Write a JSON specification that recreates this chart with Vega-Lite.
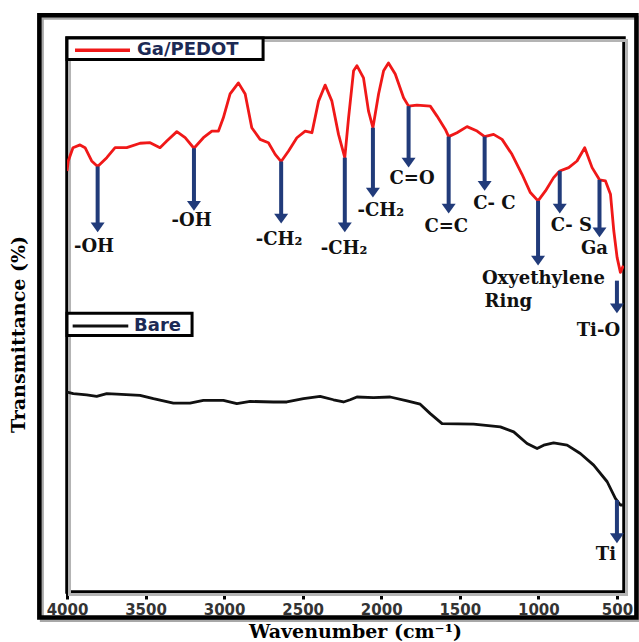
{
  "$schema": "https://vega.github.io/schema/vega-lite/v6.json",
  "width": 557,
  "height": 554,
  "autosize": {"type": "none"},
  "padding": {"left": 67, "top": 38, "right": 15, "bottom": 50},
  "background": "white",
  "config": {
    "view": {"stroke": "black", "strokeWidth": 3.5},
    "font": "DejaVu Serif"
  },
  "datasets": {
    "spectra": [
      {"sample": "Ga/PEDOT", "wn": 4000, "t": 76.0},
      {"sample": "Ga/PEDOT", "wn": 3992, "t": 77.8},
      {"sample": "Ga/PEDOT", "wn": 3962, "t": 80.2},
      {"sample": "Ga/PEDOT", "wn": 3917, "t": 80.7},
      {"sample": "Ga/PEDOT", "wn": 3885, "t": 80.2},
      {"sample": "Ga/PEDOT", "wn": 3843, "t": 77.8},
      {"sample": "Ga/PEDOT", "wn": 3805, "t": 76.8},
      {"sample": "Ga/PEDOT", "wn": 3747, "t": 78.4},
      {"sample": "Ga/PEDOT", "wn": 3694, "t": 80.2},
      {"sample": "Ga/PEDOT", "wn": 3620, "t": 80.2},
      {"sample": "Ga/PEDOT", "wn": 3535, "t": 81.0},
      {"sample": "Ga/PEDOT", "wn": 3471, "t": 81.1},
      {"sample": "Ga/PEDOT", "wn": 3408, "t": 80.2},
      {"sample": "Ga/PEDOT", "wn": 3365, "t": 81.4},
      {"sample": "Ga/PEDOT", "wn": 3301, "t": 83.1},
      {"sample": "Ga/PEDOT", "wn": 3248, "t": 82.0},
      {"sample": "Ga/PEDOT", "wn": 3192, "t": 80.1},
      {"sample": "Ga/PEDOT", "wn": 3132, "t": 82.0},
      {"sample": "Ga/PEDOT", "wn": 3078, "t": 83.2},
      {"sample": "Ga/PEDOT", "wn": 3036, "t": 83.2},
      {"sample": "Ga/PEDOT", "wn": 3005, "t": 85.6},
      {"sample": "Ga/PEDOT", "wn": 2962, "t": 89.9},
      {"sample": "Ga/PEDOT", "wn": 2909, "t": 91.9},
      {"sample": "Ga/PEDOT", "wn": 2866, "t": 89.9},
      {"sample": "Ga/PEDOT", "wn": 2824, "t": 83.8},
      {"sample": "Ga/PEDOT", "wn": 2771, "t": 81.7},
      {"sample": "Ga/PEDOT", "wn": 2718, "t": 81.1},
      {"sample": "Ga/PEDOT", "wn": 2675, "t": 79.0},
      {"sample": "Ga/PEDOT", "wn": 2637, "t": 77.7},
      {"sample": "Ga/PEDOT", "wn": 2590, "t": 79.6},
      {"sample": "Ga/PEDOT", "wn": 2537, "t": 82.0},
      {"sample": "Ga/PEDOT", "wn": 2484, "t": 83.2},
      {"sample": "Ga/PEDOT", "wn": 2441, "t": 82.9},
      {"sample": "Ga/PEDOT", "wn": 2399, "t": 88.6},
      {"sample": "Ga/PEDOT", "wn": 2357, "t": 91.5},
      {"sample": "Ga/PEDOT", "wn": 2314, "t": 88.6},
      {"sample": "Ga/PEDOT", "wn": 2272, "t": 82.6},
      {"sample": "Ga/PEDOT", "wn": 2232, "t": 78.4},
      {"sample": "Ga/PEDOT", "wn": 2208, "t": 85.6},
      {"sample": "Ga/PEDOT", "wn": 2176, "t": 94.1},
      {"sample": "Ga/PEDOT", "wn": 2155, "t": 95.0},
      {"sample": "Ga/PEDOT", "wn": 2113, "t": 92.8},
      {"sample": "Ga/PEDOT", "wn": 2081, "t": 86.8},
      {"sample": "Ga/PEDOT", "wn": 2053, "t": 83.8},
      {"sample": "Ga/PEDOT", "wn": 2017, "t": 89.9},
      {"sample": "Ga/PEDOT", "wn": 1985, "t": 94.1},
      {"sample": "Ga/PEDOT", "wn": 1954, "t": 95.5},
      {"sample": "Ga/PEDOT", "wn": 1911, "t": 93.5},
      {"sample": "Ga/PEDOT", "wn": 1858, "t": 89.2},
      {"sample": "Ga/PEDOT", "wn": 1826, "t": 87.7},
      {"sample": "Ga/PEDOT", "wn": 1773, "t": 87.9},
      {"sample": "Ga/PEDOT", "wn": 1688, "t": 87.7},
      {"sample": "Ga/PEDOT", "wn": 1645, "t": 85.9},
      {"sample": "Ga/PEDOT", "wn": 1592, "t": 83.5},
      {"sample": "Ga/PEDOT", "wn": 1571, "t": 82.2},
      {"sample": "Ga/PEDOT", "wn": 1518, "t": 82.9},
      {"sample": "Ga/PEDOT", "wn": 1454, "t": 84.0},
      {"sample": "Ga/PEDOT", "wn": 1390, "t": 83.2},
      {"sample": "Ga/PEDOT", "wn": 1342, "t": 82.2},
      {"sample": "Ga/PEDOT", "wn": 1285, "t": 82.6},
      {"sample": "Ga/PEDOT", "wn": 1231, "t": 81.7},
      {"sample": "Ga/PEDOT", "wn": 1168, "t": 79.0},
      {"sample": "Ga/PEDOT", "wn": 1104, "t": 75.4},
      {"sample": "Ga/PEDOT", "wn": 1051, "t": 72.1},
      {"sample": "Ga/PEDOT", "wn": 1002, "t": 70.6},
      {"sample": "Ga/PEDOT", "wn": 955, "t": 72.4},
      {"sample": "Ga/PEDOT", "wn": 903, "t": 74.8},
      {"sample": "Ga/PEDOT", "wn": 864, "t": 76.0},
      {"sample": "Ga/PEDOT", "wn": 807, "t": 76.6},
      {"sample": "Ga/PEDOT", "wn": 754, "t": 77.8},
      {"sample": "Ga/PEDOT", "wn": 705, "t": 80.2},
      {"sample": "Ga/PEDOT", "wn": 658, "t": 76.6},
      {"sample": "Ga/PEDOT", "wn": 611, "t": 74.4},
      {"sample": "Ga/PEDOT", "wn": 573, "t": 74.2},
      {"sample": "Ga/PEDOT", "wn": 541, "t": 71.8},
      {"sample": "Ga/PEDOT", "wn": 520, "t": 65.2},
      {"sample": "Ga/PEDOT", "wn": 499, "t": 60.4},
      {"sample": "Ga/PEDOT", "wn": 478, "t": 57.7},
      {"sample": "Ga/PEDOT", "wn": 459, "t": 58.9},
      {"sample": "Bare", "wn": 4000, "t": 36.1},
      {"sample": "Bare", "wn": 3960, "t": 35.8},
      {"sample": "Bare", "wn": 3875, "t": 35.6},
      {"sample": "Bare", "wn": 3811, "t": 35.3},
      {"sample": "Bare", "wn": 3747, "t": 35.8},
      {"sample": "Bare", "wn": 3683, "t": 35.7},
      {"sample": "Bare", "wn": 3535, "t": 35.5},
      {"sample": "Bare", "wn": 3450, "t": 34.9},
      {"sample": "Bare", "wn": 3323, "t": 34.1},
      {"sample": "Bare", "wn": 3217, "t": 34.1},
      {"sample": "Bare", "wn": 3132, "t": 34.6},
      {"sample": "Bare", "wn": 3005, "t": 34.6},
      {"sample": "Bare", "wn": 2919, "t": 34.0},
      {"sample": "Bare", "wn": 2834, "t": 34.4},
      {"sample": "Bare", "wn": 2686, "t": 34.3},
      {"sample": "Bare", "wn": 2601, "t": 34.3},
      {"sample": "Bare", "wn": 2495, "t": 34.9},
      {"sample": "Bare", "wn": 2389, "t": 35.3},
      {"sample": "Bare", "wn": 2304, "t": 34.7},
      {"sample": "Bare", "wn": 2240, "t": 34.3},
      {"sample": "Bare", "wn": 2198, "t": 34.7},
      {"sample": "Bare", "wn": 2155, "t": 35.2},
      {"sample": "Bare", "wn": 2049, "t": 35.1},
      {"sample": "Bare", "wn": 1943, "t": 35.2},
      {"sample": "Bare", "wn": 1836, "t": 34.5},
      {"sample": "Bare", "wn": 1752, "t": 33.9},
      {"sample": "Bare", "wn": 1688, "t": 32.2},
      {"sample": "Bare", "wn": 1613, "t": 30.4},
      {"sample": "Bare", "wn": 1412, "t": 30.3},
      {"sample": "Bare", "wn": 1242, "t": 29.8},
      {"sample": "Bare", "wn": 1157, "t": 28.9},
      {"sample": "Bare", "wn": 1072, "t": 26.8},
      {"sample": "Bare", "wn": 1008, "t": 25.9},
      {"sample": "Bare", "wn": 966, "t": 26.5},
      {"sample": "Bare", "wn": 903, "t": 26.9},
      {"sample": "Bare", "wn": 817, "t": 26.5},
      {"sample": "Bare", "wn": 733, "t": 25.0},
      {"sample": "Bare", "wn": 648, "t": 22.9},
      {"sample": "Bare", "wn": 562, "t": 19.9},
      {"sample": "Bare", "wn": 510, "t": 16.9},
      {"sample": "Bare", "wn": 478, "t": 15.7},
      {"sample": "Bare", "wn": 459, "t": 15.7}
    ],
    "bands": [
      {"band": "-OH", "wn": 3805, "from": 76.8, "to": 65.8},
      {"band": "-OH", "wn": 3192, "from": 80.1, "to": 69.7},
      {"band": "-CH₂", "wn": 2637, "from": 77.7, "to": 67.4},
      {"band": "-CH₂", "wn": 2232, "from": 78.4, "to": 65.8},
      {"band": "-CH₂", "wn": 2053, "from": 83.8, "to": 72.1},
      {"band": "C=O", "wn": 1826, "from": 87.7, "to": 77.5},
      {"band": "C=C", "wn": 1571, "from": 82.2, "to": 69.2},
      {"band": "C-C", "wn": 1342, "from": 82.2, "to": 73.3},
      {"band": "Oxyethylene Ring", "wn": 1002, "from": 70.6, "to": 59.8},
      {"band": "C-S", "wn": 864, "from": 76.0, "to": 69.2},
      {"band": "Ga", "wn": 611, "from": 74.4, "to": 64.9},
      {"band": "Ti-O", "wn": 500, "from": 56.2, "to": 51.2},
      {"band": "Ti", "wn": 500, "from": 16.6, "to": 9.7}
    ],
    "bandLabels": [
      {"label": "-OH", "wn": 3828, "t": 62.2},
      {"label": "-OH", "wn": 3207, "t": 67.0},
      {"label": "-CH₂", "wn": 2650, "t": 63.5},
      {"label": "-CH₂", "wn": 2236, "t": 61.9},
      {"label": "-CH₂", "wn": 2003, "t": 68.8},
      {"label": "C=O", "wn": 1804, "t": 74.6},
      {"label": "C=C", "wn": 1586, "t": 65.8},
      {"label": "C- C", "wn": 1280, "t": 70.0},
      {"label": "Oxyethylene", "wn": 968, "t": 56.5},
      {"label": "Ring", "wn": 1191, "t": 52.3},
      {"label": "C- S", "wn": 790, "t": 66.1},
      {"label": "Ga", "wn": 643, "t": 61.9},
      {"label": "Ti-O", "wn": 618, "t": 47.2},
      {"label": "Ti", "wn": 570, "t": 6.7}
    ]
  },
  "layer": [
    {
      "description": "soft drop shadow of the plot frame",
      "data": {"values": [{}]},
      "mark": {"type": "rect", "fill": "transparent", "stroke": "#b4b4b4", "strokeWidth": 3, "clip": false},
      "encoding": {
        "x": {"datum": 3984, "type": "quantitative"},
        "x2": {"datum": 439},
        "y": {"datum": 99.55, "type": "quantitative"},
        "y2": {"datum": -0.45}
      }
    },
    {
      "description": "soft drop shadow of the outer frame",
      "data": {"values": [{}]},
      "mark": {"type": "rect", "fill": "transparent", "stroke": "#a8a8a8", "strokeWidth": 4, "clip": false},
      "encoding": {
        "x": {"datum": 4160, "type": "quantitative"},
        "x2": {"datum": 360},
        "y": {"datum": 103.65, "type": "quantitative"},
        "y2": {"datum": -5.05}
      }
    },
    {
      "description": "outer frame",
      "data": {"values": [{}]},
      "mark": {"type": "rect", "fill": "transparent", "stroke": "black", "strokeWidth": 4.5, "clip": false},
      "encoding": {
        "x": {"datum": 4176, "type": "quantitative"},
        "x2": {"datum": 376},
        "y": {"datum": 104.1, "type": "quantitative"},
        "y2": {"datum": -4.6}
      }
    },
    {
      "data": {"name": "spectra"},
      "mark": {"type": "line", "strokeWidth": 2.8, "strokeJoin": "round", "clip": true},
      "encoding": {
        "x": {
          "field": "wn", "type": "quantitative",
          "scale": {"domain": [455, 4000], "reverse": true, "nice": false, "zero": false},
          "axis": {
            "values": [4000, 3500, 3000, 2500, 2000, 1500, 1000, 500],
            "format": "d",
            "domain": false, "grid": false,
            "ticks": true, "tickSize": 7, "tickWidth": 3, "tickColor": "black",
            "labelFlush": false,
            "labelFont": "DejaVu Sans", "labelFontWeight": "bold", "labelFontSize": 15,
            "labelColor": "#333333", "labelPadding": 3,
            "title": "Wavenumber (cm⁻¹)",
            "titleFont": "DejaVu Serif", "titleFontWeight": "bold", "titleFontSize": 19,
            "titleColor": "black",
            "titleX": 288, "titleY": 45, "titleBaseline": "alphabetic", "titleAlign": "center"
          }
        },
        "y": {
          "field": "t", "type": "quantitative",
          "scale": {"domain": [0, 100], "nice": false, "zero": false},
          "axis": {
            "labels": false, "ticks": false, "domain": false, "grid": false,
            "title": "Transmittance (%)",
            "titleFont": "DejaVu Serif", "titleFontWeight": "bold", "titleFontSize": 19,
            "titleColor": "black",
            "titleX": -49, "titleY": 296, "titleBaseline": "middle", "titleAlign": "center", "titleAngle": -90
          }
        },
        "color": {
          "field": "sample", "type": "nominal",
          "scale": {"domain": ["Ga/PEDOT", "Bare"], "range": ["#f01818", "#111111"]},
          "legend": null
        }
      }
    },
    {
      "data": {"name": "bands"},
      "mark": {"type": "rule", "color": "#213b7a", "strokeWidth": 4, "strokeCap": "butt"},
      "encoding": {
        "x": {"field": "wn", "type": "quantitative"},
        "y": {"field": "from", "type": "quantitative"},
        "y2": {"field": "to"}
      }
    },
    {
      "data": {"name": "bands"},
      "mark": {"type": "point", "shape": "M-1,-0.7L1,-0.7L0,0.7Z", "size": 196, "filled": true, "color": "#213b7a", "opacity": 1},
      "encoding": {
        "x": {"field": "wn", "type": "quantitative"},
        "y": {"field": "to", "type": "quantitative"}
      }
    },
    {
      "data": {"name": "bandLabels"},
      "mark": {"type": "text", "font": "DejaVu Serif", "fontWeight": "bold", "fontSize": 18, "color": "#111111", "align": "center", "baseline": "middle"},
      "encoding": {
        "x": {"field": "wn", "type": "quantitative"},
        "y": {"field": "t", "type": "quantitative"},
        "text": {"field": "label"}
      }
    },
    {
      "data": {"values": [{}]},
      "mark": {"type": "rect", "fill": "white", "stroke": "black", "strokeWidth": 3},
      "encoding": {
        "x": {"datum": 4000, "type": "quantitative"},
        "x2": {"datum": 2752},
        "y": {"datum": 100, "type": "quantitative"},
        "y2": {"datum": 96.1}
      }
    },
    {
      "data": {"values": [{}]},
      "mark": {"type": "rule", "color": "#f01818", "strokeWidth": 3.5},
      "encoding": {
        "x": {"datum": 3949, "type": "quantitative"},
        "x2": {"datum": 3599},
        "y": {"datum": 97.8, "type": "quantitative"}
      }
    },
    {
      "data": {"values": [{}]},
      "mark": {"type": "text", "text": "Ga/PEDOT", "font": "DejaVu Sans", "fontWeight": "bold", "fontSize": 18, "color": "#1c2a55", "align": "left", "baseline": "middle"},
      "encoding": {
        "x": {"datum": 3554, "type": "quantitative"},
        "y": {"datum": 97.8, "type": "quantitative"}
      }
    },
    {
      "data": {"values": [{}]},
      "mark": {"type": "rect", "fill": "white", "stroke": "black", "strokeWidth": 3},
      "encoding": {
        "x": {"datum": 4000, "type": "quantitative"},
        "x2": {"datum": 3204},
        "y": {"datum": 50.3, "type": "quantitative"},
        "y2": {"datum": 46.3}
      }
    },
    {
      "data": {"values": [{}]},
      "mark": {"type": "rule", "color": "#111111", "strokeWidth": 3},
      "encoding": {
        "x": {"datum": 3964, "type": "quantitative"},
        "x2": {"datum": 3610},
        "y": {"datum": 48.0, "type": "quantitative"}
      }
    },
    {
      "data": {"values": [{}]},
      "mark": {"type": "text", "text": "Bare", "font": "DejaVu Sans", "fontWeight": "bold", "fontSize": 18, "color": "#1c2a55", "align": "left", "baseline": "middle"},
      "encoding": {
        "x": {"datum": 3573, "type": "quantitative"},
        "y": {"datum": 48.0, "type": "quantitative"}
      }
    }
  ]
}
